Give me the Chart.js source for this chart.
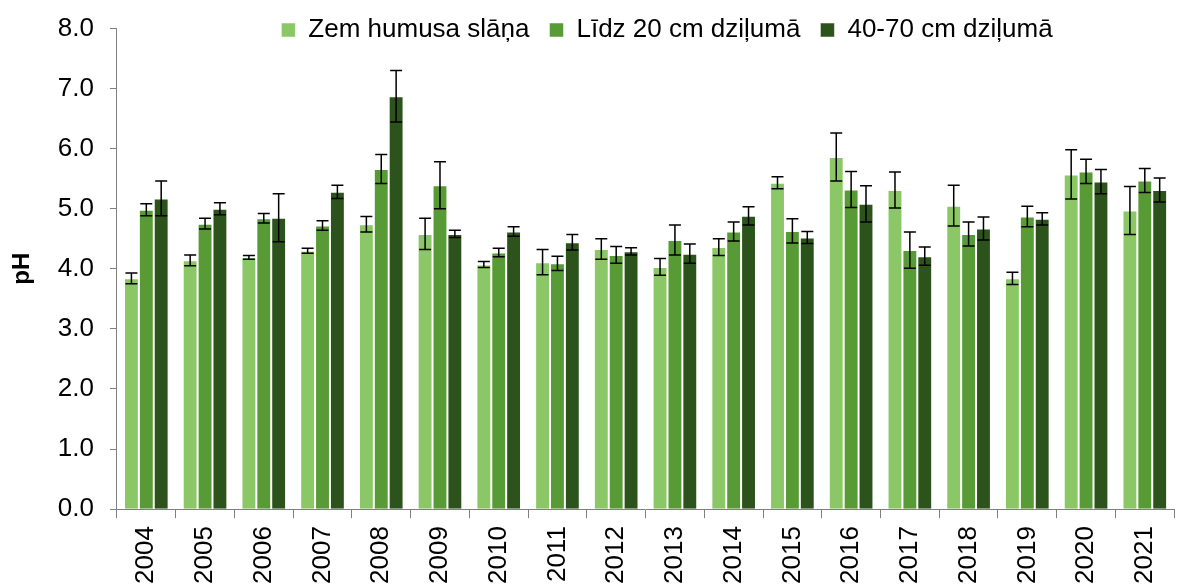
<!DOCTYPE html>
<html>
<head>
<meta charset="utf-8">
<script src="https://cdn.jsdelivr.net/npm/chart.js@4/dist/chart.umd.min.js"></script>
<style>
  html, body { margin: 0; padding: 0; background: #fff; overflow: hidden; }
  #wrap { position: absolute; left: 0; top: 0; width: 1184px; height: 592px; }
</style>
</head>
<body>
<div id="wrap"><canvas id="phChart"></canvas></div>
<script>
// years and series (pH, mean and error)
const years = ["2004", "2005", "2006", "2007", "2008", "2009", "2010", "2011", "2012",
               "2013", "2014", "2015", "2016", "2017", "2018", "2019", "2020", "2021"];
const seriesNames = ["Zem humusa slāņa", "Līdz 20 cm dziļumā", "40-70 cm dziļumā"];

const underHumus = [3.84, 4.14, 4.19, 4.30, 4.74, 4.58, 4.07, 4.11, 4.33, 4.03, 4.36, 5.43, 5.86, 5.31, 5.05, 3.84, 5.57, 4.97];
const underHumusErr = [0.09, 0.09, 0.03, 0.04, 0.13, 0.26, 0.05, 0.21, 0.17, 0.14, 0.14, 0.10, 0.40, 0.30, 0.34, 0.10, 0.41, 0.40];

const to20cm = [4.98, 4.75, 4.84, 4.72, 5.66, 5.39, 4.27, 4.09, 4.23, 4.48, 4.62, 4.63, 5.32, 4.31, 4.58, 4.87, 5.62, 5.47];
const to20cmErr = [0.10, 0.09, 0.08, 0.08, 0.24, 0.39, 0.07, 0.12, 0.14, 0.25, 0.16, 0.20, 0.30, 0.30, 0.20, 0.17, 0.20, 0.20];

const depth4070 = [5.17, 5.00, 4.85, 5.28, 6.87, 4.58, 4.62, 4.44, 4.29, 4.25, 4.88, 4.52, 5.08, 4.21, 4.67, 4.83, 5.45, 5.31];
const depth4070Err = [0.29, 0.10, 0.40, 0.11, 0.43, 0.06, 0.08, 0.13, 0.06, 0.16, 0.15, 0.10, 0.30, 0.15, 0.19, 0.10, 0.20, 0.20];

const yTicks = [0, 1, 2, 3, 4, 5, 6, 7, 8];

const colors = ["#8BC766", "#589A35", "#2C531C"];
const axisGrey = "#808080";
const font = "'Liberation Sans', Arial, sans-serif";

// error bars drawn through the bar elements and y scale
const errorBars = {
    id: "errorBars",
    afterDatasetsDraw(chart) {
        const ctx = chart.ctx;
        const y = chart.scales.y;
        ctx.save();
        ctx.strokeStyle = "#000";
        ctx.lineWidth = 1.5;
        chart.data.datasets.forEach((ds, i) => {
            const meta = chart.getDatasetMeta(i);
            meta.data.forEach((bar, j) => {
                const v = ds.data[j], e = ds.errors[j];
                const top = y.getPixelForValue(v + e);
                const bot = y.getPixelForValue(v - e);
                const x = bar.x;
                ctx.beginPath();
                ctx.moveTo(x, top); ctx.lineTo(x, bot);
                ctx.moveTo(x - 6, top); ctx.lineTo(x + 6, top);
                ctx.moveTo(x - 6, bot); ctx.lineTo(x + 6, bot);
                ctx.stroke();
            });
        });
        ctx.restore();
    }
};

// legend sits over the top of the plot, like the original
const legendPlace = {
    id: "legendPlace",
    afterLayout(chart) {
        const L = chart.legend;
        if (!L) return;
        L.top = -3;
        L.bottom = 72;
        L.height = 75;
        L.left += 75;
        L.right += 75;
    }
};

new Chart(document.getElementById("phChart"), {
    type: "bar",
    data: {
        labels: years,
        datasets: [
            { label: seriesNames[0], data: underHumus, errors: underHumusErr, backgroundColor: colors[0] },
            { label: seriesNames[1], data: to20cm, errors: to20cmErr, backgroundColor: colors[1] },
            { label: seriesNames[2], data: depth4070, errors: depth4070Err, backgroundColor: colors[2] }
        ].map(d => Object.assign(d, {
            borderColor: "rgba(255,255,255,0.5)",
            borderWidth: 1,
            categoryPercentage: 0.76,
            barPercentage: 1.0
        }))
    },
    options: {
        responsive: true,
        maintainAspectRatio: false,
        animation: false,
        layout: { padding: { top: 0, left: 0, right: 0, bottom: 0 } },
        plugins: {
            tooltip: { enabled: false },
            legend: {
                position: "top",
                maxHeight: 1,
                labels: {
                    color: "#000",
                    font: { family: font, size: 26 },
                    boxWidth: 14,
                    boxHeight: 14,
                    padding: 20
                }
            }
        },
        scales: {
            x: {
                grid: { offset: true, drawOnChartArea: false, tickLength: 9, color: axisGrey },
                border: { color: axisGrey, width: 1 },
                ticks: {
                    color: "#000",
                    font: { family: font, size: 26 },
                    minRotation: 90,
                    maxRotation: 90,
                    padding: 8,
                    autoSkip: false
                }
            },
            y: {
                min: 0,
                max: 8,
                afterBuildTicks: axis => { axis.ticks = yTicks.map(v => ({ value: v })); },
                grid: { drawOnChartArea: false, tickLength: 7, color: axisGrey },
                border: { color: axisGrey, width: 1 },
                ticks: {
                    color: "#000",
                    font: { family: font, size: 26, lineHeight: 0.95 },
                    padding: 16,
                    callback: v => v.toFixed(1)
                },
                title: {
                    display: true,
                    text: "pH",
                    color: "#000",
                    font: { family: font, size: 24, weight: "bold" },
                    padding: { top: 8, bottom: 5 }
                }
            }
        }
    },
    plugins: [errorBars, legendPlace]
});
</script>
</body>
</html>
